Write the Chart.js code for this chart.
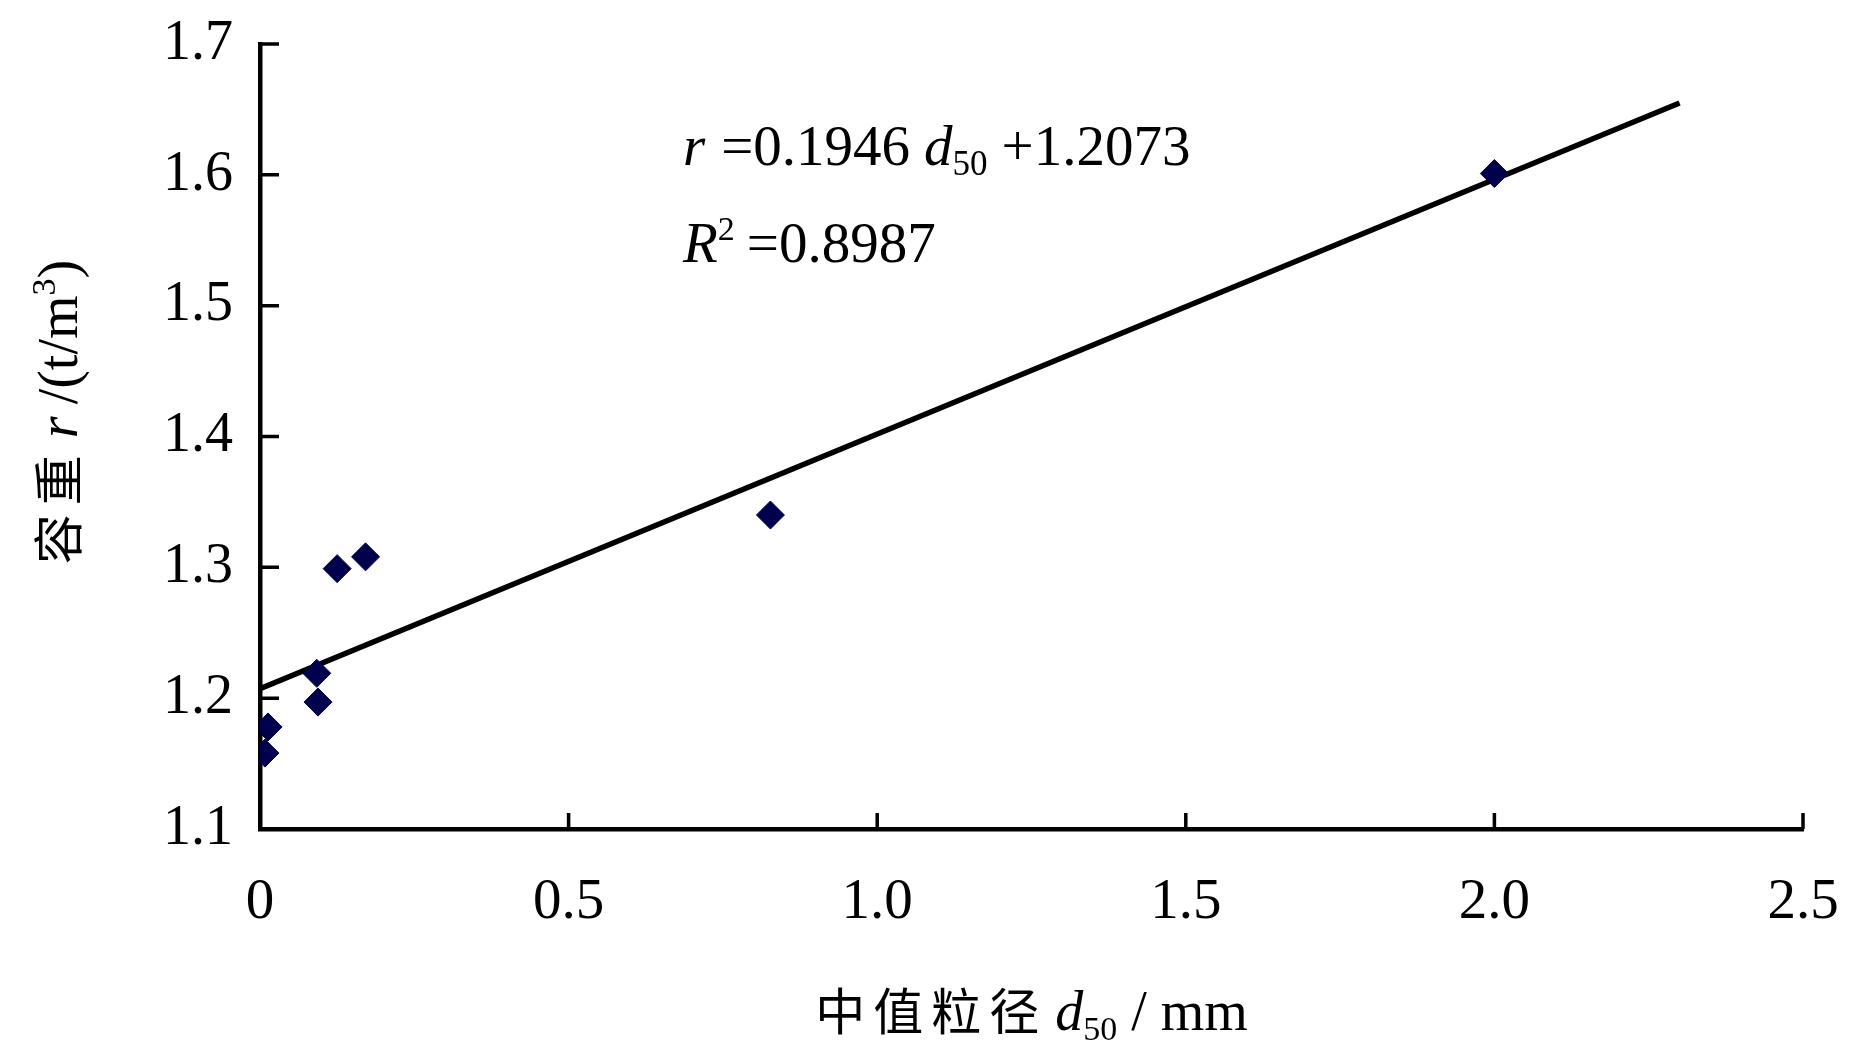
<!DOCTYPE html>
<html><head><meta charset="utf-8">
<script src="https://cdn.jsdelivr.net/npm/chart.js@4/dist/chart.umd.min.js"></script>
<style>html,body{margin:0;padding:0;background:#fff;overflow:hidden}canvas{display:block}</style>
</head><body>
<canvas id="c" width="1871" height="1063" style="width:1871px;height:1063px"></canvas>
<script>
// ---- data ----
const d50Values     = [0.008, 0.013, 0.092, 0.094, 0.125, 0.171, 0.827, 2.000];
const densityValues = [1.158, 1.178, 1.219, 1.197, 1.299, 1.308, 1.340, 1.601];
const trendX = [0, 2.3];
const trendY = [1.2073, 1.6549];
const xTickValues = [0, 0.5, 1.0, 1.5, 2.0, 2.5];
const xTickLabels = ['0', '0.5', '1.0', '1.5', '2.0', '2.5'];
const yTickValues = [1.1, 1.2, 1.3, 1.4, 1.5, 1.6, 1.7];
const yTickLabels = ['1.1', '1.2', '1.3', '1.4', '1.5', '1.6', '1.7'];
const equationText = { slope: '0.1946', intercept: '1.2073', r2: '0.8987' };

const SERIF = '"Liberation Serif", "DejaVu Serif", serif';
const CJK = '"Noto Sans CJK SC", sans-serif';

function drawSegs(ctx, x, y, segs, measureOnly) {
  let cx = x;
  for (const s of segs) {
    ctx.font = s.font;
    if (s.cjk) {
      for (const ch of s.t) {
        if (!measureOnly) ctx.fillText(ch, cx, y + (s.dy || 0));
        cx += s.adv;
      }
    } else {
      if (!measureOnly) ctx.fillText(s.t, cx, y + (s.dy || 0));
      cx += ctx.measureText(s.t).width;
    }
    cx += (s.gap || 0);
  }
  return cx - x;
}

const decorPlugin = {
  id: 'decor',
  afterDraw(chart) {
    const ctx = chart.ctx;
    const xs = chart.scales.x, ys = chart.scales.y;
    const area = chart.chartArea;
    ctx.save();
    // inward tick marks
    ctx.strokeStyle = '#000';
    ctx.lineWidth = 3.5;
    ctx.beginPath();
    for (const v of xTickValues) {
      if (v === xTickValues[0]) continue;
      const px = xs.getPixelForValue(v);
      ctx.moveTo(px, area.bottom);
      ctx.lineTo(px, area.bottom - 16);
    }
    for (const v of yTickValues) {
      if (v === yTickValues[0]) continue;
      const py = ys.getPixelForValue(v);
      ctx.moveTo(area.left, py);
      ctx.lineTo(area.left + 19, py);
    }
    ctx.stroke();

    ctx.fillStyle = '#000';
    ctx.textBaseline = 'alphabetic';
    ctx.textAlign = 'left';

    // equation
    const F = 57;
    const line1 = [
      { t: 'r', font: `italic ${F}px ${SERIF}`, gap: 16 },
      { t: '=' + equationText.slope, font: `${F}px ${SERIF}`, gap: 14 },
      { t: 'd', font: `italic ${F}px ${SERIF}` },
      { t: '50', font: `${Math.round(F * 0.62)}px ${SERIF}`, dy: 10, gap: 14 },
      { t: '+' + equationText.intercept, font: `${F}px ${SERIF}` }
    ];
    drawSegs(ctx, 683, 165, line1);
    const line2 = [
      { t: 'R', font: `italic ${F}px ${SERIF}` },
      { t: '2', font: `${Math.round(F * 0.6)}px ${SERIF}`, dy: -22, gap: 12 },
      { t: '=' + equationText.r2, font: `${F}px ${SERIF}` }
    ];
    drawSegs(ctx, 683, 262, line2);

    // x title
    const xt = [
      { t: '中值粒径', font: `50px ${CJK}`, cjk: true, adv: 58, gap: 8 },
      { t: 'd', font: `italic 56px ${SERIF}` },
      { t: '50', font: `34px ${SERIF}`, dy: 10, gap: 14 },
      { t: '/ mm', font: `56px ${SERIF}` }
    ];
    const xw = drawSegs(ctx, 0, 0, xt, true);
    const xc = (area.left + area.right) / 2;
    drawSegs(ctx, xc - xw / 2, 1030, xt);

    // y title (rotated)
    const yt = [
      { t: '容重', font: `50px ${CJK}`, cjk: true, adv: 59, gap: 8 },
      { t: 'r', font: `italic 56px ${SERIF}`, gap: 12 },
      { t: '/(t/m', font: `56px ${SERIF}` },
      { t: '3', font: `34px ${SERIF}`, dy: -22 },
      { t: ')', font: `56px ${SERIF}` }
    ];
    const yw = drawSegs(ctx, 0, 0, yt, true);
    ctx.translate(77, 412);
    ctx.rotate(-Math.PI / 2);
    drawSegs(ctx, -yw / 2, 0, yt);
    ctx.restore();
  }
};

new Chart(document.getElementById('c'), {
  type: 'scatter',
  data: {
    datasets: [
      {
        label: 'trend',
        type: 'line',
        data: trendX.map((x, i) => ({ x, y: trendY[i] })),
        borderColor: '#000',
        borderWidth: 5.5,
        pointRadius: 0,
        fill: false,
        order: 2
      },
      {
        label: 'data',
        data: d50Values.map((x, i) => ({ x, y: densityValues[i] })),
        pointStyle: 'rectRot',
        pointRadius: 14,
        pointBackgroundColor: '#00004d',
        pointBorderColor: '#00004d',
        pointBorderWidth: 1,
        order: 1
      }
    ]
  },
  options: {
    responsive: false,
    animation: false,
    devicePixelRatio: 1,
    layout: { padding: { left: 0, top: 44, right: 68, bottom: 0 } },
    plugins: { legend: { display: false }, tooltip: { enabled: false } },
    scales: {
      x: {
        type: 'linear', min: 0, max: 2.5,
        afterFit(s) { s.height = 234; s.paddingLeft = 0; s.paddingRight = 0; },
        afterBuildTicks(s) { s.ticks = xTickValues.map(v => ({ value: v })); },
        grid: { display: false, drawTicks: false },
        border: { display: true, color: '#000', width: 4.5 },
        ticks: {
          padding: 40, color: '#000',
          font: { family: SERIF, size: 57 },
          maxRotation: 0, autoSkip: false,
          callback: (v, i) => xTickLabels[i]
        }
      },
      y: {
        type: 'linear', min: 1.1, max: 1.7,
        afterFit(s) { s.width = 260; s.paddingTop = 0; s.paddingBottom = 0; },
        afterBuildTicks(s) { s.ticks = yTickValues.map(v => ({ value: v })); },
        grid: { display: false, drawTicks: false },
        border: { display: true, color: '#000', width: 4.5 },
        ticks: {
          padding: 27, color: '#000',
          font: { family: SERIF, size: 56 },
          autoSkip: false,
          callback: (v, i) => yTickLabels[i]
        }
      }
    }
  },
  plugins: [decorPlugin]
});
</script>
</body></html>
